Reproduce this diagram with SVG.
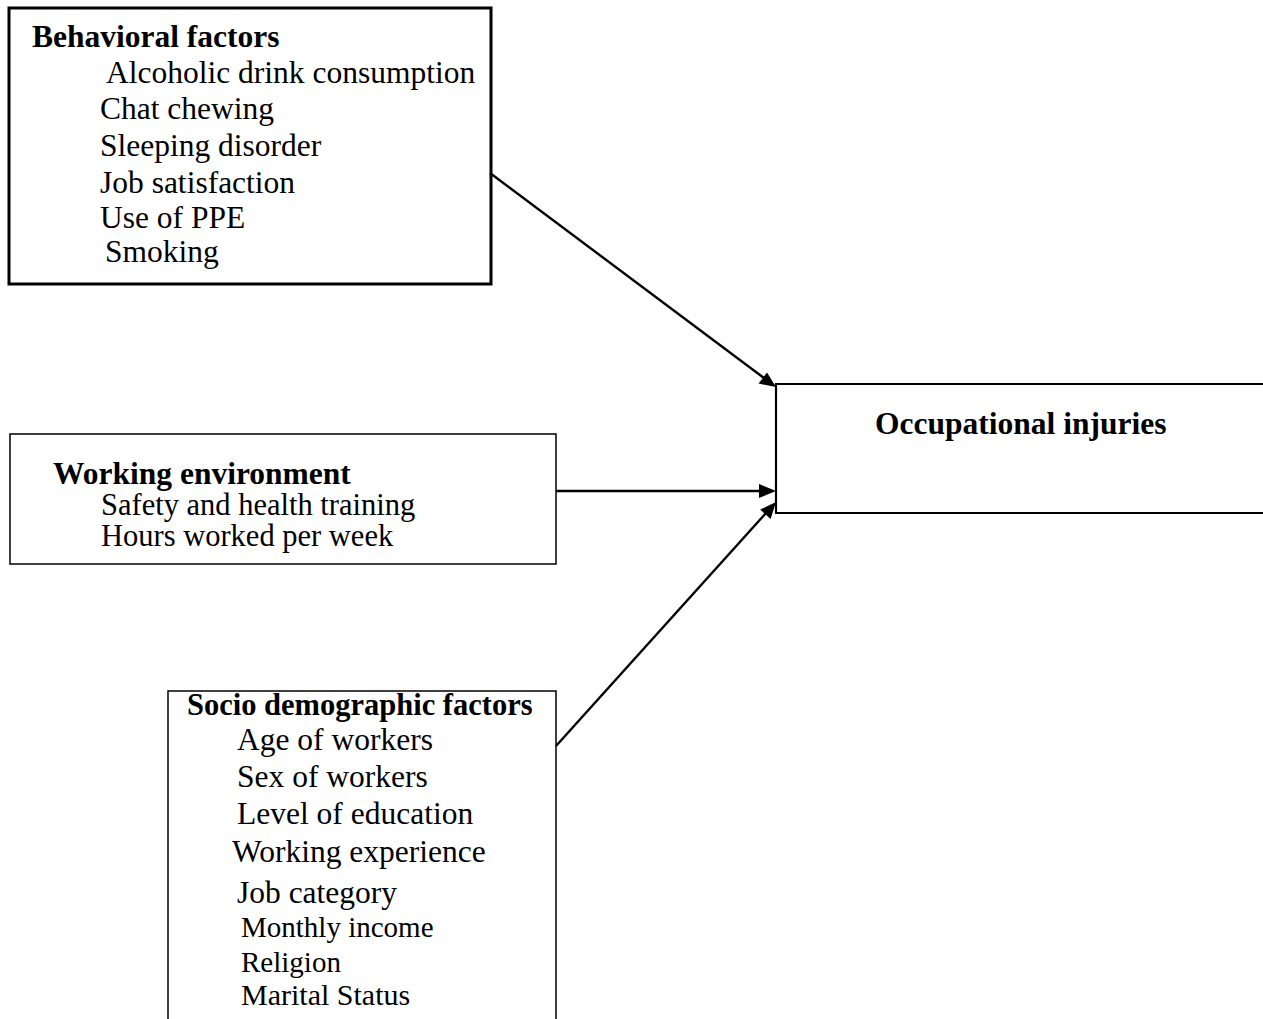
<svg xmlns="http://www.w3.org/2000/svg" width="1263" height="1019" viewBox="0 0 1263 1019">
<style>
.box{fill:#fff;stroke:#000}
.conn{stroke:#000;stroke-width:2.4;fill:none}
.head{fill:#000;stroke:none}
</style>
<rect width="1263" height="1019" fill="#fff"/>
<g id="behavioral" font-family="'Liberation Serif', 'Times New Roman', serif" font-size="31.5" fill="#000">
<rect class="box" x="9" y="8" width="482" height="276" stroke-width="3"/>
<text font-weight="bold" x="32" y="47">Behavioral factors</text>
<text x="106" y="83">Alcoholic drink consumption</text>
<text x="100" y="119">Chat chewing</text>
<text x="100" y="156">Sleeping disorder</text>
<text x="100" y="193">Job satisfaction</text>
<text x="100" y="228">Use of PPE</text>
<text x="105" y="262">Smoking</text>
</g>
<g id="working" font-family="'Liberation Serif', 'Times New Roman', serif" font-size="30.5" fill="#000">
<rect class="box" x="10" y="434" width="546" height="130" stroke-width="1.5"/>
<text font-weight="bold" x="53" y="484" font-size="31.5">Working environment</text>
<text x="101" y="515">Safety and health training</text>
<text x="101" y="546">Hours worked per week</text>
</g>
<g id="occupational" font-family="'Liberation Serif', 'Times New Roman', serif" font-size="31.5" fill="#000">
<path class="box" d="M1264,384 H776 V513 H1264" stroke-width="2.2"/>
<text font-weight="bold" x="875" y="434">Occupational injuries</text>
</g>
<g id="socio" font-family="'Liberation Serif', 'Times New Roman', serif" font-size="31.5" fill="#000">
<path class="box" d="M168,1020 V691 H556 V1020" stroke-width="1.5"/>
<text font-weight="bold" x="187" y="715" font-size="30.5">Socio demographic factors</text>
<text x="237" y="750">Age of workers</text>
<text x="237" y="787">Sex of workers</text>
<text x="237" y="824">Level of education</text>
<text x="232" y="862">Working experience</text>
<text x="237" y="903">Job category</text>
<text x="241" y="937" font-size="29">Monthly income</text>
<text x="241" y="972" font-size="29">Religion</text>
<text x="241" y="1005" font-size="30">Marital Status</text>
</g>
<g id="connectors">
<line class="conn" x1="490" y1="173" x2="764" y2="378"/>
<path class="head" d="M776,387 L758.6,383.6 L767.0,372.4 Z"/>
<line class="conn" x1="556" y1="491" x2="762" y2="491"/>
<path class="head" d="M776,491 L759,484 L759,498 Z"/>
<line class="conn" x1="556" y1="746" x2="766" y2="513"/>
<path class="head" d="M776,502 L770.6,519.0 L760.2,509.6 Z"/>
</g>
</svg>
